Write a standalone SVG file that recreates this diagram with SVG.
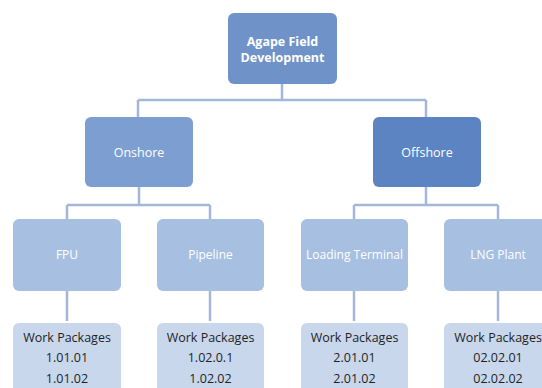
<svg xmlns="http://www.w3.org/2000/svg" width="542" height="388" viewBox="0 0 542 388">
<style>
.c{fill:none;stroke:#a3b8d9;stroke-width:2.5}
.t{font-family:"Open Sans","Liberation Sans",sans-serif;text-anchor:middle}
.w{fill:#ffffff}
.d{fill:#1f1f1f}
</style>
<rect width="542" height="388" fill="#ffffff"/>
<g id="connectors">
<path class="c" d="M282,84V100M138,100H426M138,100V117M426,100V117"/>
<path class="c" d="M139,187V205M67,205H210M67,205V219M210,205V219"/>
<path class="c" d="M426,187V205M354,205H498M354,205V219M498,205V219"/>
<path class="c" d="M67,291V321M210,291V321M354,291V321M498,291V321"/>
</g>
<g id="agape">
<rect x="228" y="13" width="109" height="71" rx="6" fill="#6f93c9"/>
<text class="t w" x="282.5" y="46" font-size="12.5" font-weight="bold">Agape Field</text>
<text class="t w" x="282.5" y="62" font-size="12.5" font-weight="bold">Development</text>
</g>
<g id="onshore">
<rect x="85" y="117" width="108" height="70" rx="6" fill="#7d9ed0"/>
<text class="t w" x="139" y="157" font-size="12.5">Onshore</text>
</g>
<g id="offshore">
<rect x="373" y="117" width="108" height="70" rx="6" fill="#5c84c2"/>
<text class="t w" x="427" y="157" font-size="12.5">Offshore</text>
</g>
<g id="fpu">
<rect x="13" y="219" width="108" height="72" rx="6" fill="#a7bfe1"/>
<text class="t w" x="67" y="259" font-size="12">FPU</text>
</g>
<g id="pipeline">
<rect x="157" y="219" width="107" height="72" rx="6" fill="#a7bfe1"/>
<text class="t w" x="210.5" y="259" font-size="12">Pipeline</text>
</g>
<g id="loading">
<rect x="301" y="219" width="107" height="72" rx="6" fill="#a7bfe1"/>
<text class="t w" x="354.5" y="259" font-size="12">Loading Terminal</text>
</g>
<g id="lng">
<rect x="444" y="219" width="108" height="72" rx="6" fill="#a7bfe1"/>
<text class="t w" x="498" y="259" font-size="12">LNG Plant</text>
</g>
<g id="wp1">
<rect x="13" y="323" width="108" height="80" rx="6" fill="#c8d7ec"/>
<text class="t d" x="67" y="342" font-size="12.5">Work Packages</text>
<text class="t d" x="67" y="362" font-size="12.5">1.01.01</text>
<text class="t d" x="67" y="383" font-size="12.5">1.01.02</text>
</g>
<g id="wp2">
<rect x="157" y="323" width="107" height="80" rx="6" fill="#c8d7ec"/>
<text class="t d" x="210.5" y="342" font-size="12.5">Work Packages</text>
<text class="t d" x="210.5" y="362" font-size="12.5">1.02.0.1</text>
<text class="t d" x="210.5" y="383" font-size="12.5">1.02.02</text>
</g>
<g id="wp3">
<rect x="301" y="323" width="107" height="80" rx="6" fill="#c8d7ec"/>
<text class="t d" x="354.5" y="342" font-size="12.5">Work Packages</text>
<text class="t d" x="354.5" y="362" font-size="12.5">2.01.01</text>
<text class="t d" x="354.5" y="383" font-size="12.5">2.01.02</text>
</g>
<g id="wp4">
<rect x="444" y="323" width="108" height="80" rx="6" fill="#c8d7ec"/>
<text class="t d" x="498" y="342" font-size="12.5">Work Packages</text>
<text class="t d" x="498" y="362" font-size="12.5">02.02.01</text>
<text class="t d" x="498" y="383" font-size="12.5">02.02.02</text>
</g>
</svg>
